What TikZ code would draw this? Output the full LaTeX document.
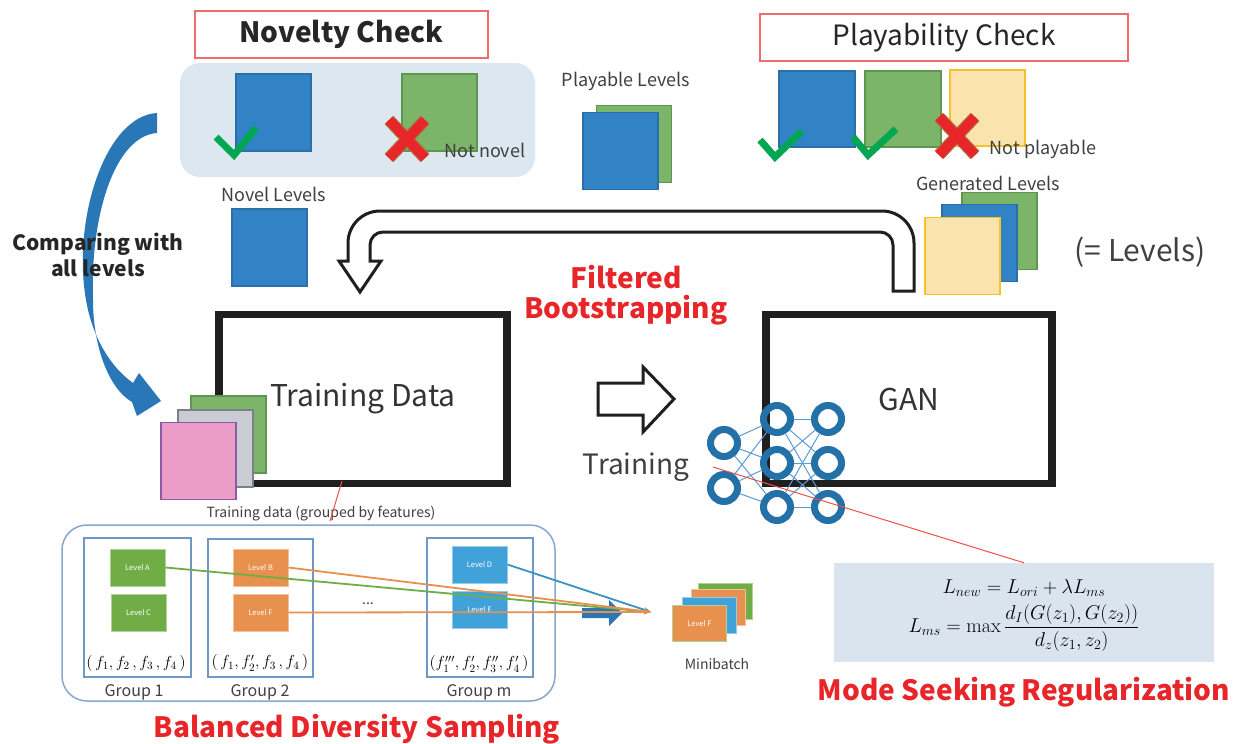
\RequirePackage{fix-cm}
\documentclass[tikz,border=0pt]{standalone}
\usepackage{amsmath}
\usepackage{fontspec}
\setmainfont{Noto Sans CJK JP}
\setmathrm{Latin Modern Roman}
\usetikzlibrary{arrows.meta}
\newcommand{\fsz}[1]{\fontsize{#1}{#1}\selectfont}
\definecolor{bfill}{HTML}{3283C5}
\definecolor{bdraw}{HTML}{2C6FA8}
\definecolor{gfill}{HTML}{7CB46A}
\definecolor{gdraw}{HTML}{5C9650}
\definecolor{yfill}{HTML}{FAE3AC}
\definecolor{ydraw}{HTML}{F6C12B}
\definecolor{pfill}{HTML}{EC9DC7}
\definecolor{pdraw}{HTML}{8C5AA8}
\definecolor{grfill}{HTML}{C9CCD3}
\definecolor{grdraw}{HTML}{7D8187}
\definecolor{panelfill}{HTML}{DCE7F0}
\definecolor{boxred}{HTML}{EE6B6E}
\definecolor{titred}{HTML}{E8262A}
\definecolor{chk}{HTML}{00A651}
\definecolor{xbrown}{HTML}{B5653A}
\definecolor{txtgray}{HTML}{404040}
\definecolor{arrowblue}{HTML}{2A77B8}
\definecolor{nnblue}{HTML}{2471A8}
\definecolor{nnlight}{HTML}{5B9BD5}
\definecolor{lvgreen}{HTML}{70AD47}
\definecolor{lvorange}{HTML}{E8904E}
\definecolor{lvblue}{HTML}{41A2DA}
\definecolor{grpblue}{HTML}{6F98C8}
\definecolor{fboxfill}{HTML}{D9E4EE}
\definecolor{redline}{HTML}{F0504A}
\newcommand{\redX}[2]{%
  \draw[xo] (#1-18,#2-19)--(#1+18,#2+19) (#1-18,#2+19)--(#1+18,#2-19);
  \draw[xr] (#1-18,#2-19)--(#1+18,#2+19) (#1-18,#2+19)--(#1+18,#2-19);}
\begin{document}
\begin{tikzpicture}[x=1pt,y=-1pt,
  sq/.style={draw, line width=1.6pt, minimum width=75pt, minimum height=77pt, inner sep=0pt, outer sep=0pt},
  bsq/.style={sq, fill=bfill, draw=bdraw},
  gsq/.style={sq, fill=gfill, draw=gdraw},
  ysq/.style={sq, fill=yfill, draw=ydraw},
  psq/.style={sq, fill=pfill, draw=pdraw},
  grsq/.style={sq, fill=grfill, draw=grdraw},
  titlebox/.style={draw=boxred, line width=1.2pt, minimum height=47pt, inner sep=0pt, text=black!85},
  bigbox/.style={draw=black!88, line width=7.5pt, minimum width=288pt, minimum height=169pt, inner sep=0pt, font=\fsz{30}, text=black!80},
  lbl/.style={font=\fsz{18}, text=txtgray, inner sep=0pt},
  small/.style={font=\fsz{14}, text=txtgray, inner sep=0pt},
  redtitle/.style={font=\fsz{28}\bfseries, text=titred, inner sep=0pt, align=center},
  check/.style={draw=chk, line width=7pt},
  xo/.style={draw=xbrown, line width=12pt},
  xr/.style={draw=titred, line width=9.5pt},
  ring/.style={circle, draw=nnblue, line width=7pt, minimum size=27pt, inner sep=0pt},
  nnline/.style={draw=nnlight, line width=1pt},
  lvl/.style={draw, line width=1pt, minimum width=55pt, minimum height=37pt, inner sep=0pt, text=white, font=\fsz{7.5}},
  grp/.style={draw=grpblue, line width=1.2pt, inner sep=0pt},
  mb/.style={lvl, minimum width=54pt, minimum height=36pt},
  samp/.style={line width=1.8pt, -{Stealth[length=7pt,width=5pt]}},
  rl/.style={draw=redline, line width=1pt}]
\useasboundingbox (0,0) rectangle (1234,744);
\fill[white] (0,0) rectangle (1234,744);

% ---------- Novelty check ----------
\node[titlebox, minimum width=293pt, font=\fsz{28}\bfseries] (novtitle) at (341.5,34.5) {Novelty Check};
\node[fill=panelfill, rounded corners=20pt, minimum width=355pt, minimum height=114pt, inner sep=0pt] (novpanel) at (357.5,120) {};
\node[bsq] (novblue) at (273.5,112.5) {};
\node[gsq] (novgreen) at (439.5,112.5) {};
\draw[check] (216,137) -- (234,155) -- (256,128);
\redX{407}{139}
\node[lbl] (notnovel) at (485,150) {Not novel};
\node[lbl] (novlab) at (274,194) {Novel Levels};
\node[bsq] (novlev) at (269.5,247.5) {};

% curved blue arrow
\fill[arrowblue] (157,113) .. controls (105,116) and (72,220) .. (86,300)
  .. controls (93,340) and (112,368) .. (133,383) -- (139,373) -- (161,401) -- (137,416) -- (132,402)
  .. controls (108,388) and (93,345) .. (93,300)
  .. controls (90,215) and (115,136) .. (157,133) -- cycle;
\node[font=\fsz{21}\bfseries, text=black!85, align=center, inner sep=0pt] (cmp) at (98,255) {Comparing with\\[4pt]all levels};

% ---------- Playable ----------
\node[lbl] (playlab) at (626,81) {Playable Levels};
\node[gsq] (pl2) at (634,144) {};
\node[bsq] (pl1) at (620.5,151) {};

% ---------- Playability check ----------
\node[titlebox, minimum width=368pt, font=\fsz{28}] (playtitle) at (944,37.5) {Playability Check};
\node[bsq, minimum width=76pt, minimum height=76pt] (pc1) at (817,109) {};
\node[gsq, minimum width=76pt, minimum height=76pt] (pc2) at (903,109) {};
\node[ysq, minimum width=75pt, minimum height=76pt] (pc3) at (987.5,108) {};
\draw[check] (760,140) -- (775,157) -- (802,131);
\draw[check] (853,137) -- (868,155) -- (896,129);
\redX{957}{136}
\node[lbl] (notplay) at (1043,149) {Not playable};
\node[lbl] (genlab) at (988,183) {Generated Levels};
\node[gsq] (gen3) at (999.5,231) {};
\node[bsq] (gen2) at (979.5,243) {};
\node[ysq] (gen1) at (962.5,256) {};
\node[font=\fsz{30}, text=txtgray, inner sep=0pt] (eqlev) at (1140,252) {(= Levels)};

% ---------- U arrow (filtered bootstrapping) ----------
\draw[line width=3pt, fill=white, draw=black!88, line join=miter]
  (914,291) [rounded corners=32pt] -- (914,211) -- (348,211) [sharp corners] -- (348,261)
  -- (339,261) -- (360,292) -- (381,261) -- (370,261) [rounded corners=13pt] -- (370,232) -- (893,232) [sharp corners] -- (893,291) -- cycle;
\node[redtitle] (fb) at (626,295) {Filtered\\[2pt]Bootstrapping};

% ---------- Training data ----------
\node[bigbox] (td) at (363,399) {Training Data};
\node[gsq] (ts3) at (228.5,434.5) {};
\node[grsq] (ts2) at (215.5,448.5) {};
\node[psq] (ts1) at (198.5,461) {};

% training arrow
\draw[line width=3pt, draw=black!88, fill=white] (598,383) -- (643,383) -- (643,367) -- (674,399) -- (643,432) -- (643,415) -- (598,415) -- cycle;
\node[font=\fsz{28}, text=txtgray, inner sep=0pt] (trainlab) at (636,467) {Training};

% ---------- GAN ----------
\node[bigbox, minimum width=286pt] (gan) at (909,399) {GAN};
\node[ring] (n11) at (724,443) {};
\node[ring] (n12) at (724,488) {};
\node[ring] (n21) at (777,419) {};
\node[ring] (n22) at (777,463) {};
\node[ring] (n23) at (777,507) {};
\node[ring] (n31) at (828,419) {};
\node[ring] (n32) at (828,463) {};
\node[ring] (n33) at (828,507) {};
\foreach \a in {n11,n12}{\foreach \b in {n21,n22,n23}{\draw[nnline] (\a) -- (\b);}}
\foreach \a in {n21,n22,n23}{\foreach \b in {n31,n32,n33}{\draw[nnline] (\a) -- (\b);}}

% ---------- formula ----------
\node[fill=fboxfill, minimum width=380pt, minimum height=99pt, inner sep=0pt] (fbox) at (1024,612.5) {};
\node[font=\fsz{20}, inner sep=0pt] (f1) at (1024,588) {$L_{new} = L_{ori} + \lambda L_{ms}$};
\node[font=\fsz{20}, inner sep=0pt] (f2) at (1024,628) {$\displaystyle L_{ms} = \max\frac{d_I(G(z_1),G(z_2))}{d_z(z_1,z_2)}$};
\node[redtitle] (msr) at (1024,692) {Mode Seeking Regularization};
\coordinate (rl1) at (713,467);
\draw[rl] (rl1) -- (fbox.north);

% ---------- Balanced diversity sampling ----------
\node[small] (grlab) at (321,514) {Training data (grouped by features)};
\coordinate (rl2) at (342,481);
\coordinate (rl3) at (330,521);
\draw[rl] (rl2) -- (rl3);
\node[draw=grpblue!85, line width=1.5pt, rounded corners=25pt, minimum width=493pt, minimum height=176pt, inner sep=0pt] (gpanel) at (308.5,613) {};
\node[grp, minimum width=107pt, minimum height=139pt] (g1) at (137.5,607.5) {};
\node[grp, minimum width=105pt, minimum height=138pt] (g2) at (260.5,608) {};
\node[grp, minimum width=106pt, minimum height=139pt] (gm) at (480,607.5) {};
\node[lvl, fill=lvgreen, draw=lvgreen!55] (lA) at (137.5,567.5) {Level A};
\node[lvl, fill=lvgreen, draw=lvgreen!55] (lC) at (138.5,612.5) {Level C};
\node[lvl, fill=lvorange, draw=lvorange!55] (lB) at (260.5,567.5) {Level B};
\node[lvl, fill=lvorange, draw=lvorange!55] (lF) at (260.5,612.5) {Level F};
\node[lvl, fill=lvblue, draw=lvblue!55] (lD) at (479.5,564.5) {Level D};
\node[lvl, fill=lvblue, draw=lvblue!55] (lE) at (479.5,609.5) {Level E};
\node[font=\fsz{14}, text=txtgray, inner sep=0pt] (dots) at (368,604) {...};
\node[font=\fsz{16}, inner sep=0pt] (fe1) at (136,663) {$(\,f_1, f_2\,, f_3\,, f_4\,)$};
\node[font=\fsz{16}, inner sep=0pt] (fe2) at (260,663) {$(\,f_1, f_2', f_3\,, f_4\,)$};
\node[font=\fsz{16}, inner sep=0pt] (fe3) at (479,664) {$(f_1''', f_2', f_3'', f_4'\,)$};
\node[font=\fsz{16}, text=txtgray, inner sep=0pt] (gl1) at (134,692) {Group 1};
\node[font=\fsz{16}, text=txtgray, inner sep=0pt] (gl2) at (260,692) {Group 2};
\node[font=\fsz{16}, text=txtgray, inner sep=0pt] (glm) at (479,692) {Group m};
\node[redtitle] (bds) at (357,729) {Balanced Diversity Sampling};

% minibatch
\fill[arrowblue] (582,608) -- (609,608) -- (609,600) -- (622,613) -- (609,626) -- (609,618) -- (582,618) -- cycle;
\coordinate (mbpt) at (651,612);
\draw[samp, draw=lvblue!90!black, fill=lvblue!90!black] (lD.east) -- (mbpt);
\draw[samp, draw=lvgreen, fill=lvgreen] (lA.east) -- (mbpt);
\draw[samp, draw=lvorange, fill=lvorange] (lB.east) -- (mbpt);
\draw[samp, draw=lvorange, fill=lvorange] (lF.east) -- (mbpt);
\node[mb, fill=lvgreen, draw=lvgreen!55] (mb4) at (725,601) {};
\node[mb, fill=lvorange, draw=lvorange!55] (mb3) at (718,607.5) {};
\node[mb, fill=lvblue, draw=lvblue!55] (mb2) at (709.5,615) {};
\node[mb, fill=lvorange, draw=lvgreen!55] (mb1) at (699.5,623.5) {Level F};
\node[small] (mblab) at (717,664) {Minibatch};
\end{tikzpicture}
\end{document}
